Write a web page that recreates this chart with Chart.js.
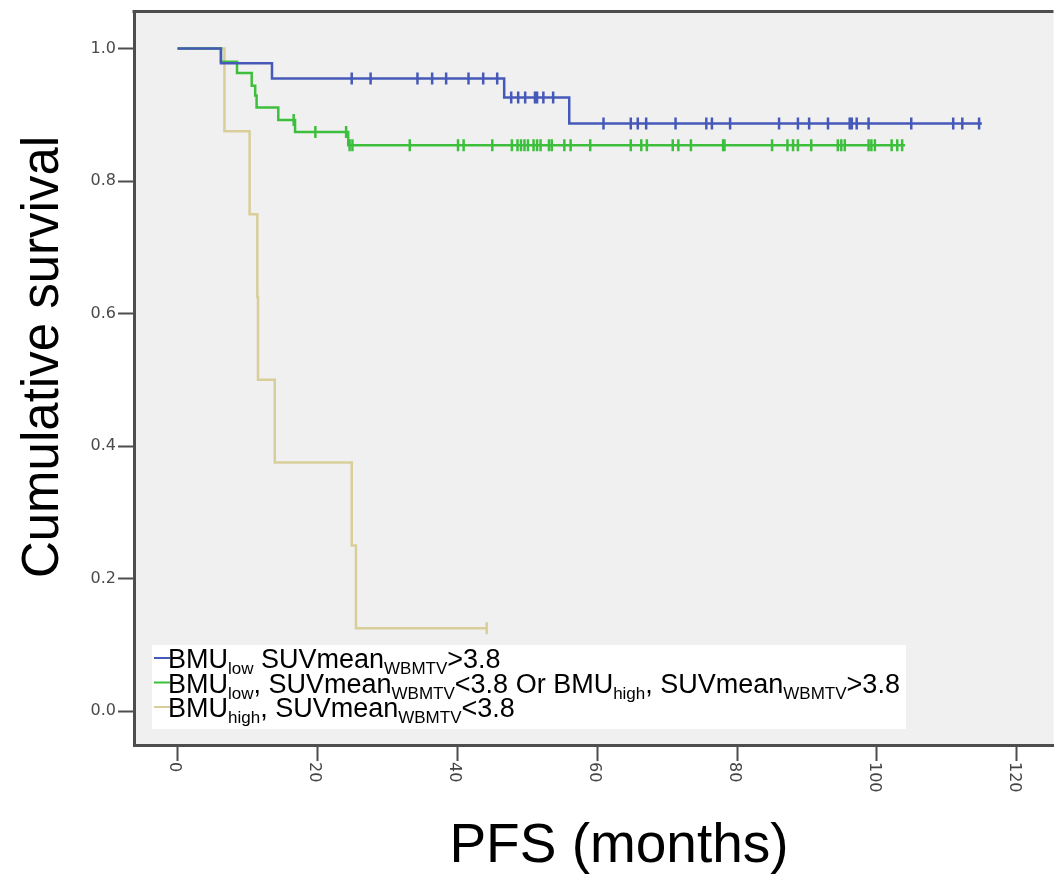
<!DOCTYPE html>
<html>
<head>
<meta charset="utf-8">
<script src="https://cdn.jsdelivr.net/npm/chart.js@4.4.1/dist/chart.umd.min.js"></script>
<style>
  html, body { margin: 0; padding: 0; background: #fff; }
  canvas { display: block; }
</style>
</head>
<body>
<canvas id="survivalChart" width="1062" height="874"></canvas>
<script>
// Kaplan-Meier steps: time of each event (months) and survival after it
const lowHighTimes = [0, 6.2, 13.5, 46.7, 56.0, 115.0];
const lowHighSurv  = [1.0, 0.978, 0.955, 0.926, 0.887, 0.887];
const lowHighCensored = [24.9, 27.6, 34.3, 36.4, 38.4, 41.6, 43.7, 45.7, 47.7, 48.7, 49.7,
  51.1, 51.4, 52.3, 53.7, 60.9, 64.8, 65.8, 67.0, 71.2, 75.6, 76.4, 79.0, 86.0, 88.7, 90.3,
  93.0, 96.1, 96.4, 97.1, 98.8, 104.9, 110.9, 112.2, 114.6];

const mixedTimes = [0, 6.2, 8.5, 10.6, 11.1, 11.3, 14.4, 16.8, 24.4, 104.0];
const mixedSurv  = [1.0, 0.980, 0.963, 0.944, 0.929, 0.911, 0.892, 0.874, 0.854, 0.854];
const mixedCensored = [16.6, 19.7, 24.1, 24.6, 25.0, 33.2, 40.1, 40.9, 45.0, 47.8, 48.6, 49.1,
  49.6, 50.1, 50.9, 51.4, 51.9, 53.1, 53.5, 55.3, 56.2, 59.0, 64.8, 66.3, 67.1, 70.8, 71.6,
  73.4, 78.0, 78.2, 85.0, 87.2, 88.0, 88.7, 90.6, 94.4, 94.9, 95.4, 98.8, 99.2, 99.7, 102.1,
  102.9, 103.6];

const highLowTimes = [0, 6.7, 10.3, 11.4, 11.5, 13.9, 24.9, 25.5, 44.4];
const highLowSurv  = [1.0, 0.875, 0.75, 0.625, 0.5, 0.375, 0.25, 0.125, 0.125];
const highLowCensored = [44.2];

const xTicks = [0, 20, 40, 60, 80, 100, 120];
const yTicks = [0, 0.2, 0.4, 0.6, 0.8, 1.0];

const BLUE = '#4659b8';
const GREEN = '#3dbf3d';
const TAN = '#d8ce9a';

// legend rows: [text, subscript?] pieces
const legendRows = [
  { color: BLUE, parts: [['BMU'], ['low', 1], [' SUVmean'], ['WBMTV', 1], ['>3.8']] },
  { color: GREEN, parts: [['BMU'], ['low', 1], [', SUVmean'], ['WBMTV', 1], ['<3.8 Or BMU'],
    ['high', 1], [', SUVmean'], ['WBMTV', 1], ['>3.8']] },
  { color: TAN, parts: [['BMU'], ['high', 1], [', SUVmean'], ['WBMTV', 1], ['<3.8']] }
];

function levelAt(times, surv, t) {
  let s = surv[0];
  for (let i = 0; i < times.length; i++) {
    if (times[i] <= t) s = surv[i];
  }
  return s;
}

function curve(color, times, surv) {
  return {
    data: times.map((t, i) => ({ x: t, y: surv[i] })),
    showLine: true,
    stepped: true,
    borderColor: color,
    borderWidth: 2.5,
    pointRadius: 0,
    fill: false
  };
}

function censorMarks(color, times, surv, censored) {
  return {
    data: censored.map(t => ({ x: t, y: levelAt(times, surv, t) })),
    showLine: false,
    pointStyle: 'line',
    rotation: 90,
    pointRadius: 6,
    borderColor: color,
    backgroundColor: color,
    borderWidth: 2.5
  };
}

const frameAndText = {
  id: 'frameAndText',
  beforeDraw(chart) {
    const { ctx, chartArea: a } = chart;
    ctx.save();
    ctx.fillStyle = '#f0f0f0';
    ctx.fillRect(a.left, a.top, a.right - a.left, a.bottom - a.top);
    ctx.restore();
  },
  afterDraw(chart) {
    const { ctx, chartArea: a } = chart;
    const xs = chart.scales.x;
    ctx.save();
    // top edge of the frame
    ctx.strokeStyle = '#4d4d4d';
    ctx.lineWidth = 3;
    ctx.beginPath();
    ctx.moveTo(a.left - 1.5, a.top);
    ctx.lineTo(a.right, a.top);
    ctx.stroke();

    // x tick labels, turned to read downwards
    ctx.fillStyle = '#444';
    ctx.font = '16px "DejaVu Sans"';
    ctx.textAlign = 'left';
    ctx.textBaseline = 'middle';
    xTicks.forEach(v => {
      const px = xs.getPixelForValue(v);
      ctx.save();
      ctx.translate(px - 3, a.bottom + 17);
      ctx.rotate(Math.PI / 2);
      ctx.fillText(String(v), 0, 0);
      ctx.restore();
    });

    // axis titles
    ctx.fillStyle = '#000';
    ctx.textAlign = 'center';
    ctx.textBaseline = 'alphabetic';
    ctx.font = '55px "Liberation Sans", Arial, sans-serif';
    ctx.fillText('PFS (months)', 619, 862);
    ctx.save();
    ctx.translate(58, 357);
    ctx.rotate(-Math.PI / 2);
    ctx.font = '51px "Liberation Sans", Arial, sans-serif';
    ctx.fillText('Cumulative survival', 0, 0);
    ctx.restore();

    // legend box
    const boxL = a.left + 18, boxT = a.bottom - 100, boxR = 906, boxB = a.bottom - 16;
    ctx.fillStyle = '#fff';
    ctx.fillRect(boxL, boxT, boxR - boxL, boxB - boxT);
    const mainFont = '27px "Liberation Sans", Arial, sans-serif';
    const subFont = '17px "Liberation Sans", Arial, sans-serif';
    legendRows.forEach((row, i) => {
      const base = boxT + 23 + i * 24.5;
      ctx.strokeStyle = row.color;
      ctx.lineWidth = 2;
      ctx.beginPath();
      ctx.moveTo(boxL + 2, base - 10);
      ctx.lineTo(boxL + 18, base - 10);
      ctx.stroke();
      let x = boxL + 16;
      ctx.fillStyle = '#000';
      ctx.textAlign = 'left';
      row.parts.forEach(([txt, sub]) => {
        ctx.font = sub ? subFont : mainFont;
        ctx.fillText(txt, x, sub ? base + 6 : base);
        x += ctx.measureText(txt).width;
      });
    });
    ctx.restore();
  }
};

new Chart(document.getElementById('survivalChart'), {
  type: 'scatter',
  data: {
    datasets: [
      curve(BLUE, lowHighTimes, lowHighSurv),
      censorMarks(BLUE, lowHighTimes, lowHighSurv, lowHighCensored),
      curve(GREEN, mixedTimes, mixedSurv),
      censorMarks(GREEN, mixedTimes, mixedSurv, mixedCensored),
      curve(TAN, highLowTimes, highLowSurv),
      censorMarks(TAN, highLowTimes, highLowSurv, highLowCensored)
    ]
  },
  options: {
    responsive: false,
    animation: false,
    layout: { padding: { left: 0, top: 11, right: 0, bottom: 0 } },
    plugins: {
      legend: { display: false },
      tooltip: { enabled: false }
    },
    scales: {
      x: {
        type: 'linear',
        min: -6.23,
        max: 125.24,
        afterFit(scale) { scale.height = 129; },
        afterBuildTicks(scale) { scale.ticks = xTicks.map(v => ({ value: v })); },
        ticks: { display: false },
        grid: {
          drawOnChartArea: false,
          drawTicks: true,
          tickLength: 16,
          tickWidth: 2,
          tickColor: '#4d4d4d'
        },
        border: { display: true, color: '#4d4d4d', width: 3 }
      },
      y: {
        type: 'linear',
        min: -0.0513,
        max: 1.0558,
        afterFit(scale) { scale.width = 134; },
        afterBuildTicks(scale) { scale.ticks = yTicks.map(v => ({ value: v })); },
        ticks: {
          padding: 2,
          color: '#4a4a4a',
          font: { family: 'DejaVu Sans', size: 16 },
          callback: v => v.toFixed(1)
        },
        grid: {
          drawOnChartArea: false,
          drawTicks: true,
          tickLength: 16,
          tickWidth: 2,
          tickColor: '#4d4d4d'
        },
        border: { display: true, color: '#4d4d4d', width: 3 }
      }
    }
  },
  plugins: [frameAndText]
});
</script>
</body>
</html>
